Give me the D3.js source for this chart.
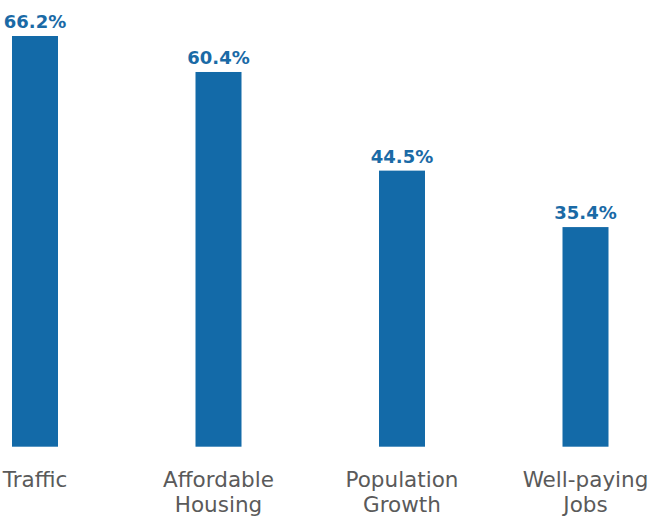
<!DOCTYPE html>
<html>
<head>
<meta charset="utf-8">
<script src="https://cdn.jsdelivr.net/npm/d3@7/dist/d3.min.js"></script>
<style>
  html, body { margin: 0; padding: 0; background: #fff; }
  svg { display: block; }
</style>
</head>
<body>
<svg id="chart" width="657" height="517"></svg>
<script>
const categories = ["Traffic", "Affordable Housing", "Population Growth", "Well-paying Jobs"];
const labelLines = [["Traffic"], ["Affordable", "Housing"], ["Population", "Growth"], ["Well-paying", "Jobs"]];
const values = [66.2, 60.4, 44.5, 35.4];

const svg = d3.select("#chart");
const barColor = "#136aa8";
const barWidth = 46;

const x = d3.scalePoint().domain(categories).range([35, 585.5]);
const y = d3.scaleLinear().domain([0, 66.2]).range([446.7, 36]);

svg.selectAll("rect.bar")
  .data(categories)
  .join("rect")
  .attr("class", "bar")
  .attr("x", (d) => x(d) - barWidth / 2)
  .attr("width", barWidth)
  .attr("y", (d, i) => y(values[i]))
  .attr("height", (d, i) => y(0) - y(values[i]))
  .attr("fill", barColor);

svg.selectAll("text.val")
  .data(categories)
  .join("text")
  .attr("class", "val")
  .attr("x", (d) => x(d))
  .attr("y", (d, i) => y(values[i]) - 8)
  .attr("text-anchor", "middle")
  .attr("font-family", "DejaVu Sans, sans-serif")
  .attr("font-weight", "bold")
  .attr("font-size", 18)
  .attr("fill", "#1a6aa6")
  .text((d, i) => values[i].toFixed(1) + "%");

const cat = svg.selectAll("text.cat")
  .data(categories)
  .join("text")
  .attr("class", "cat")
  .attr("x", (d) => x(d))
  .attr("y", 486.5)
  .attr("text-anchor", "middle")
  .attr("font-family", "DejaVu Sans, sans-serif")
  .attr("font-size", 21.5)
  .attr("fill", "#5a5a5a");

cat.each(function (d, i) {
  const t = d3.select(this);
  labelLines[i].forEach((line, j) => {
    t.append("tspan")
      .attr("x", x(d))
      .attr("dy", j === 0 ? 0 : 25)
      .text(line);
  });
});
</script>
</body>
</html>
